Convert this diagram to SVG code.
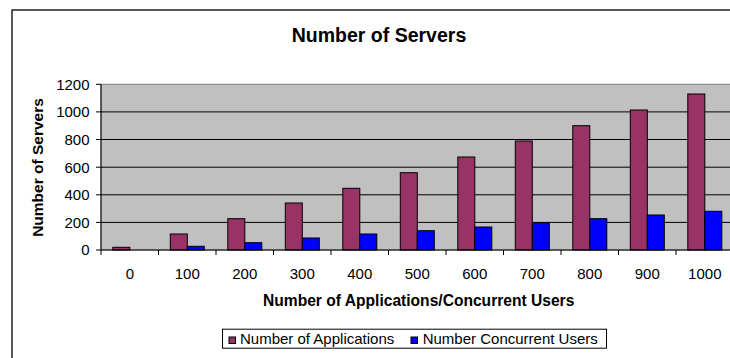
<svg xmlns="http://www.w3.org/2000/svg" width="730" height="358" viewBox="0 0 730 358">
<style>
text{font-family:"Liberation Sans",Arial,sans-serif;fill:#000}
.tk{font-size:15px}
.ttl{font-weight:bold}
.app{fill:#993366;stroke:#000;stroke-width:1}
.usr{fill:#0000FF;stroke:#000;stroke-width:1}
.grid{stroke:#000;stroke-width:1}
</style>
<rect x="0" y="0" width="730" height="358" fill="#fff"/>
<rect id="chart-frame" x="12" y="10" width="730" height="360" fill="#fff" stroke="#222" stroke-width="1.5"/>
<text id="title" class="ttl" x="379" y="41.5" font-size="19.5" text-anchor="middle">Number of Servers</text>
<g id="plot">
<rect x="101" y="84.3" width="640" height="165.7" fill="#C0C0C0" stroke="#808080" stroke-width="1"/>
<g class="grid">
<line x1="101" y1="222.4" x2="730" y2="222.4"/>
<line x1="101" y1="194.8" x2="730" y2="194.8"/>
<line x1="101" y1="167.2" x2="730" y2="167.2"/>
<line x1="101" y1="139.5" x2="730" y2="139.5"/>
<line x1="101" y1="111.9" x2="730" y2="111.9"/>
</g>
</g>
<g id="bars">
<rect class="app" x="112.8" y="247.3" width="17" height="2.7"/>
<rect class="app" x="170.3" y="234" width="17" height="16"/>
<rect class="usr" x="187.3" y="246.3" width="17" height="3.7"/>
<rect class="app" x="227.8" y="218.7" width="17" height="31.3"/>
<rect class="usr" x="244.8" y="242.7" width="17" height="7.3"/>
<rect class="app" x="285.3" y="203" width="17" height="47"/>
<rect class="usr" x="302.3" y="238" width="17" height="12"/>
<rect class="app" x="342.8" y="188.3" width="17" height="61.7"/>
<rect class="usr" x="359.8" y="234" width="17" height="16"/>
<rect class="app" x="400.3" y="172.7" width="17" height="77.3"/>
<rect class="usr" x="417.3" y="230.7" width="17" height="19.3"/>
<rect class="app" x="457.8" y="157" width="17" height="93"/>
<rect class="usr" x="474.8" y="227" width="17" height="23"/>
<rect class="app" x="515.3" y="141" width="17" height="109"/>
<rect class="usr" x="532.3" y="222.7" width="17" height="27.3"/>
<rect class="app" x="572.8" y="125.7" width="17" height="124.3"/>
<rect class="usr" x="589.8" y="218.7" width="17" height="31.3"/>
<rect class="app" x="630.3" y="110" width="17" height="140"/>
<rect class="usr" x="647.3" y="215" width="17" height="35"/>
<rect class="app" x="687.8" y="94" width="17" height="156"/>
<rect class="usr" x="704.8" y="211.3" width="17" height="38.7"/>
</g>
<g id="axes" stroke="#000" stroke-width="1">
<line x1="101" y1="84.3" x2="101" y2="255"/>
<line x1="101" y1="250" x2="730" y2="250"/>
<line x1="96" y1="250" x2="101" y2="250"/>
<line x1="96" y1="222.4" x2="101" y2="222.4"/>
<line x1="96" y1="194.8" x2="101" y2="194.8"/>
<line x1="96" y1="167.2" x2="101" y2="167.2"/>
<line x1="96" y1="139.5" x2="101" y2="139.5"/>
<line x1="96" y1="111.9" x2="101" y2="111.9"/>
<line x1="96" y1="84.3" x2="101" y2="84.3"/>
<line x1="158.5" y1="250" x2="158.5" y2="255"/>
<line x1="216" y1="250" x2="216" y2="255"/>
<line x1="273.5" y1="250" x2="273.5" y2="255"/>
<line x1="331" y1="250" x2="331" y2="255"/>
<line x1="388.5" y1="250" x2="388.5" y2="255"/>
<line x1="446" y1="250" x2="446" y2="255"/>
<line x1="503.5" y1="250" x2="503.5" y2="255"/>
<line x1="561" y1="250" x2="561" y2="255"/>
<line x1="618.5" y1="250" x2="618.5" y2="255"/>
<line x1="676" y1="250" x2="676" y2="255"/>
</g>
<g id="y-labels" class="tk" text-anchor="end">
<text x="89.5" y="255.4">0</text>
<text x="89.5" y="227.8">200</text>
<text x="89.5" y="200.2">400</text>
<text x="89.5" y="172.6">600</text>
<text x="89.5" y="144.9">800</text>
<text x="89.5" y="117.3">1000</text>
<text x="89.5" y="89.7">1200</text>
</g>
<g id="x-labels" class="tk" text-anchor="middle">
<text x="129.8" y="278.5">0</text>
<text x="187.3" y="278.5">100</text>
<text x="244.8" y="278.5">200</text>
<text x="302.3" y="278.5">300</text>
<text x="359.8" y="278.5">400</text>
<text x="417.3" y="278.5">500</text>
<text x="474.8" y="278.5">600</text>
<text x="532.3" y="278.5">700</text>
<text x="589.8" y="278.5">800</text>
<text x="647.3" y="278.5">900</text>
<text x="704.8" y="278.5">1000</text>
</g>
<text id="x-title" class="ttl" x="418.7" y="305.5" font-size="15.6" text-anchor="middle">Number of Applications/Concurrent Users</text>
<text id="y-title" class="ttl" font-size="15.5" text-anchor="middle" transform="translate(43,167.5) rotate(-90)">Number of Servers</text>
<g id="legend">
<rect x="222.5" y="329.2" width="384" height="19" fill="#fff" stroke="#000" stroke-width="1"/>
<rect class="app" x="229" y="337" width="6.5" height="6.5"/>
<text class="tk" x="240" y="344.2">Number of Applications</text>
<rect class="usr" x="411" y="337" width="6.5" height="6.5"/>
<text class="tk" x="422.7" y="344.2">Number Concurrent Users</text>
</g>
</svg>
